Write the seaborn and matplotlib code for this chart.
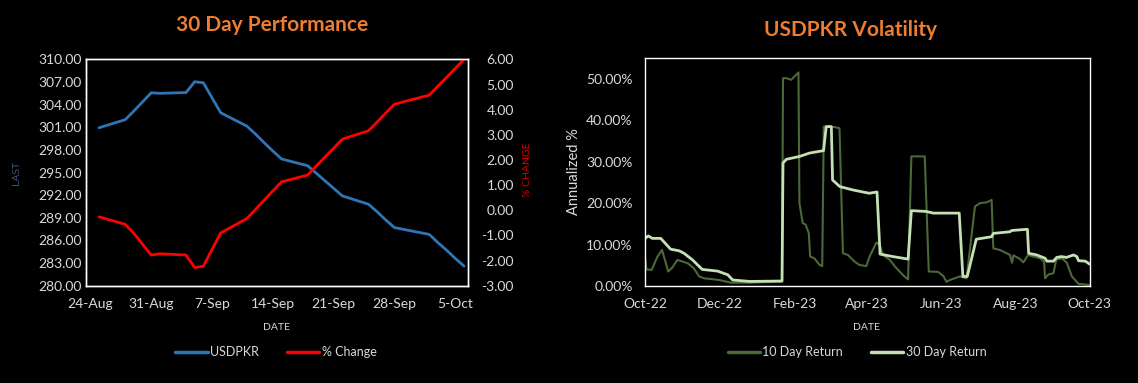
import numpy as np
import pandas as pd
import matplotlib
matplotlib.use("Agg")
import matplotlib.pyplot as plt
import matplotlib.dates as mdates
from matplotlib.ticker import FormatStrFormatter, MultipleLocator, PercentFormatter
from matplotlib.lines import Line2D
import seaborn as sns

# 30 day performance (trading days)
perf_dates = ["2023-08-25", "2023-08-28", "2023-08-29", "2023-08-30", "2023-08-31",
              "2023-09-01", "2023-09-04", "2023-09-05", "2023-09-06", "2023-09-07",
              "2023-09-08", "2023-09-11", "2023-09-12", "2023-09-13", "2023-09-14",
              "2023-09-15", "2023-09-18", "2023-09-19", "2023-09-20", "2023-09-21",
              "2023-09-22", "2023-09-25", "2023-09-26", "2023-09-27", "2023-09-28",
              "2023-10-02", "2023-10-03", "2023-10-04", "2023-10-05", "2023-10-06"]
usdpkr_last = [300.94, 302.00, 303.15, 304.36, 305.57, 305.50, 305.60, 307.03, 306.90, 304.90,
               302.92, 301.16, 300.10, 298.95, 297.85, 296.80, 295.90, 294.90, 293.90, 292.90,
               291.90, 290.80, 289.80, 288.70, 287.70, 286.80, 285.70, 284.70, 283.60, 282.60]
pct_change = [-0.26, -0.56, -0.92, -1.35, -1.78, -1.73, -1.78, -2.28, -2.22, -1.56,
              -0.90, -0.33, 0.03, 0.40, 0.77, 1.13, 1.40, 1.76, 2.12, 2.47,
              2.83, 3.16, 3.51, 3.87, 4.22, 4.58, 4.94, 5.29, 5.65, 6.00]
last_ticks = [280, 283, 286, 289, 292, 295, 298, 301, 304, 307, 310]

# volatility, vertices (days since start, annualized %)
vol_start = "2022-10-01"
vol10_days = [0, 1.2, 5.5, 10, 14, 19, 22, 26.6, 35, 40, 44.5, 48.6, 61, 70.5, 85.6,
              112.5, 113.3, 116, 120, 122.7, 126, 126.8, 129.5, 132, 134.5, 135.6, 139,
              143.3, 145.5, 146.8, 155.6, 159.7, 162.5, 166.6, 172, 176, 181.7, 184.4,
              190, 192.7, 195.4, 201, 206.4, 213, 216, 218.7, 229.7, 233, 240.7, 245,
              247.6, 250.4, 258.5, 264, 270.9, 275, 280.5, 284.6, 286, 291.5, 297,
              299.7, 301.4, 302.5, 308, 310.6, 314.7, 318.9, 324.4, 327.7, 328.5,
              331.3, 335.4, 337.6, 342.3, 346.4, 350.5, 356, 365]
vol10_pct = [7.1, 4.0, 3.9, 7.0, 8.7, 3.5, 4.3, 6.3, 5.5, 4.3, 2.3, 1.85, 1.45, 0.8, 0.8,
             1.05, 50.2, 50.2, 49.8, 50.6, 51.6, 20.0, 15.2, 14.8, 12.7, 7.1, 6.7,
             5.1, 4.8, 38.5, 38.4, 38.1, 7.9, 7.5, 5.9, 5.1, 4.8, 7.1,
             10.5, 9.9, 7.5, 6.3, 4.3, 2.3, 1.6, 31.3, 31.3, 3.5, 3.4, 2.4,
             1.0, 1.45, 2.3, 1.85, 19.2, 20.0, 20.2, 20.8, 9.1, 8.7, 7.9,
             7.5, 5.6, 7.4, 6.5, 5.7, 7.5, 7.1, 6.7, 5.9, 1.85,
             2.8, 3.1, 6.3, 6.7, 5.6, 2.3, 0.5, 0.25]
vol30_days = [0, 2.7, 6, 12.9, 21, 28, 32, 39, 47, 59.6, 68, 72, 86, 112.5, 113.3, 116,
              127, 135, 146.6, 148.8, 153, 154, 160, 170.7, 184, 190.5, 193, 203.6, 216,
              218.7, 231, 236.6, 258, 261, 264.6, 272, 284.6, 286, 299.7, 301, 314, 315,
              321.6, 328.5, 330, 335.4, 338, 342, 346, 351.9, 354.6, 356, 361.5, 365]
vol30_pct = [11.5, 12.1, 11.5, 11.5, 8.9, 8.5, 7.9, 6.3, 4.0, 3.6, 2.7, 1.45, 1.1, 1.2, 29.7, 30.6,
             31.3, 32.1, 32.7, 38.5, 38.5, 25.6, 24.0, 23.2, 22.4, 22.7, 7.7, 7.1, 6.5,
             18.2, 18.0, 17.6, 17.6, 2.3, 2.3, 11.3, 11.9, 12.7, 13.1, 13.4, 13.7, 7.9,
             7.5, 6.7, 6.0, 6.0, 6.9, 7.1, 6.9, 7.5, 7.1, 6.1, 6.0, 5.3]

BG = "black"
TXT = "#d9d9d9"
ORANGE = "#ed7d31"
BLUE = "#2e75b6"
RED = "#ff0000"
DARK_GREEN = "#4b6839"
LIGHT_GREEN = "#c5e0b4"

sns.set_style("dark", rc={"axes.facecolor": BG, "figure.facecolor": BG,
                          "axes.edgecolor": "white", "text.color": TXT,
                          "xtick.color": TXT, "ytick.color": TXT})
plt.rcParams["font.family"] = ["Lato", "DejaVu Sans"]

perf = pd.DataFrame({"date": pd.to_datetime(perf_dates), "last": usdpkr_last, "pct": pct_change})
start = pd.Timestamp(vol_start)
v10 = pd.DataFrame({"date": start + pd.to_timedelta(vol10_days, unit="D"), "vol": np.array(vol10_pct) / 100})
v30 = pd.DataFrame({"date": start + pd.to_timedelta(vol30_days, unit="D"), "vol": np.array(vol30_pct) / 100})

fig = plt.figure(figsize=(11.38, 3.83), dpi=100)
ax1 = fig.add_axes([0.0756, 0.254, 0.3357, 0.591])
ax3 = fig.add_axes([0.5668, 0.2533, 0.3906, 0.5945])

# --- left: 30 day performance ---
sns.lineplot(data=perf, x="date", y="last", ax=ax1, color=BLUE, linewidth=2)
ax2 = ax1.twinx()
sns.lineplot(data=perf, x="date", y="pct", ax=ax2, color=RED, linewidth=2)

ax1.set_ylim(280, 310)
ax1.set_yticks(last_ticks)
ax1.yaxis.set_major_formatter(FormatStrFormatter("%.2f"))
ax2.set_ylim(-3, 6)
ax2.yaxis.set_major_locator(MultipleLocator(1))
ax2.yaxis.set_major_formatter(FormatStrFormatter("%.2f"))
ax1.set_xlim(pd.Timestamp("2023-08-23 12:00"), pd.Timestamp("2023-10-06 11:00"))
ax1.set_xticks(pd.date_range("2023-08-24", "2023-10-05", freq="7D"))
ax1.xaxis.set_major_formatter(mdates.DateFormatter("%-d-%b"))
ax1.set_xlabel("")
ax1.set_ylabel("")
ax2.set_ylabel("")
ax1.tick_params(axis="both", length=0, labelsize=10, colors=TXT)
ax1.tick_params(axis="x", pad=9)
ax1.tick_params(axis="y", pad=3)
ax2.tick_params(axis="y", length=0, labelsize=10, colors=TXT, pad=33)
for lbl in ax2.get_yticklabels():
    lbl.set_horizontalalignment("right")
for a in (ax1, ax2):
    for s in a.spines.values():
        s.set_color("white")
        s.set_linewidth(1)
ax2.grid(False)
ax1.grid(False)

# --- right: volatility ---
sns.lineplot(data=v10, x="date", y="vol", ax=ax3, color=DARK_GREEN, linewidth=1.5)
sns.lineplot(data=v30, x="date", y="vol", ax=ax3, color=LIGHT_GREEN, linewidth=2)
ax3.set_ylim(0, 0.55)
ax3.set_yticks(np.arange(0, 0.51, 0.1))
ax3.yaxis.set_major_formatter(PercentFormatter(xmax=1, decimals=2))
ax3.set_xlim(pd.Timestamp("2022-10-01"), pd.Timestamp("2023-10-01"))
ax3.xaxis.set_major_locator(mdates.MonthLocator(interval=2))
ax3.xaxis.set_major_formatter(mdates.DateFormatter("%b-%y"))
ax3.set_xlabel("")
ax3.set_ylabel("")
ax3.tick_params(axis="both", length=0, labelsize=10, colors=TXT)
ax3.tick_params(axis="x", pad=9)
ax3.tick_params(axis="y", pad=9)
for s in ax3.spines.values():
    s.set_color("white")
    s.set_linewidth(1)
ax3.grid(False)

# titles and labels
fig.text(272 / 1138, 1 - 25 / 383, "30 Day Performance", color=ORANGE, fontsize=15,
         fontweight="bold", ha="center", va="center")
fig.text(851 / 1138, 1 - 30 / 383, "USDPKR Volatility", color=ORANGE, fontsize=15,
         fontweight="bold", ha="center", va="center")
fig.text(17 / 1138, 1 - 173 / 383, "LAST", color="#3f5680", fontsize=7.5, rotation=90,
         ha="center", va="center")
fig.text(528 / 1138, 1 - 170 / 383, "% CHANGE", color="#d00000", fontsize=7.5, rotation=90,
         ha="center", va="center")
fig.text(574 / 1138, 1 - 172 / 383, "Annualized %", color=TXT, fontsize=10.5, rotation=90,
         ha="center", va="center")
fig.text(277 / 1138, 1 - 328 / 383, "DATE", color=TXT, fontsize=7.5, ha="center", va="center")
fig.text(867 / 1138, 1 - 328 / 383, "DATE", color=TXT, fontsize=7.5, ha="center", va="center")

leg_kw = dict(loc="center", ncol=2, frameon=False, fontsize=9, handlelength=2.6,
              handletextpad=0.2, columnspacing=2.2, labelcolor=TXT)
fig.legend(handles=[Line2D([], [], color=BLUE, lw=2.5), Line2D([], [], color=RED, lw=2.5)],
           labels=["USDPKR", "% Change"], bbox_to_anchor=(276 / 1138, 1 - 352 / 383), **leg_kw)
fig.legend(handles=[Line2D([], [], color=DARK_GREEN, lw=2.5), Line2D([], [], color=LIGHT_GREEN, lw=2.5)],
           labels=["10 Day Return", "30 Day Return"], bbox_to_anchor=(857 / 1138, 1 - 352 / 383), **leg_kw)

fig.savefig("out.png", dpi=100, facecolor=BG)
